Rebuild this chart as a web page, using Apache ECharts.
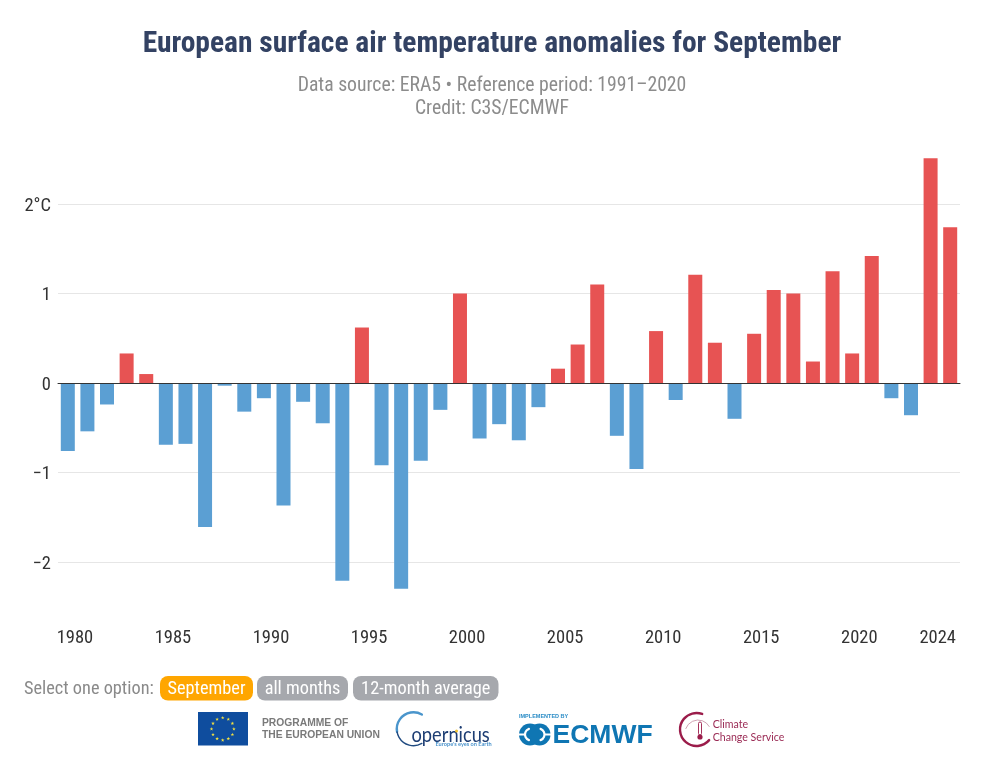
<!DOCTYPE html>
<html><head><meta charset="utf-8"><style>html,body{margin:0;padding:0;background:#fff}#c{width:984px;height:773px}</style></head>
<body><div id="c"></div>
<script src="https://cdn.jsdelivr.net/npm/echarts@6/dist/echarts.min.js"></script>
<script>
const years = ['1979','1980','1981','1982','1983','1984','1985','1986','1987','1988','1989','1990','1991','1992','1993','1994','1995','1996','1997','1998','1999','2000','2001','2002','2003','2004','2005','2006','2007','2008','2009','2010','2011','2012','2013','2014','2015','2016','2017','2018','2019','2020','2021','2022','2023','2024'];
const anomalies = [-0.76,-0.54,-0.24,0.33,0.10,-0.69,-0.68,-1.61,-0.03,-0.32,-0.17,-1.37,-0.21,-0.45,-2.21,0.62,-0.92,-2.30,-0.87,-0.30,1.00,-0.62,-0.46,-0.64,-0.27,0.16,0.43,1.10,-0.59,-0.96,0.58,-0.19,1.21,0.45,-0.40,0.55,1.04,1.00,0.24,1.25,0.33,1.42,-0.17,-0.36,2.51,1.74];
const xTickLabels = ['1980','1985','1990','1995','2000','2005','2010','2015','2020','2024'];
const titleText = 'European surface air temperature anomalies for September';
const subtitleText = 'Data source: ERA5 • Reference period: 1991–2020\nCredit: C3S/ECMWF';
const FONT = "'Roboto Condensed'";
const positive = '#e75353', negative = '#5b9fd3';

function text(x, y, t, size, fill, extra, scaleX) {
  return {type:'text', x, y, scaleX:scaleX||1, silent:true, style:Object.assign({text:t, fontFamily:FONT, fontSize:size, fill, verticalAlign:'middle'}, extra||{})};
}
function button(x, w, label, fill) {
  return [
    {type:'rect', shape:{x, y:676, width:w, height:24.5, r:8}, style:{fill}, silent:true},
    text(x+w/2, 689, label, 18.3, '#fff', {align:'center'})
  ];
}
function stars() {
  const out = [];
  for (let i = 0; i < 12; i++) {
    const a = i*Math.PI/6, cx = 222.7+11.2*Math.cos(a), cy = 729+11.2*Math.sin(a), pts = [];
    for (let k = 0; k < 10; k++) {
      const r = k%2 ? 0.75 : 1.9, b = -Math.PI/2 + k*Math.PI/5;
      pts.push([cx+r*Math.cos(b), cy+r*Math.sin(b)]);
    }
    out.push({type:'polygon', shape:{points:pts}, style:{fill:'#f5e342'}, silent:true});
  }
  return out;
}
const arc = (cx,cy,r,s,e,stroke,w) => ({type:'arc', shape:{cx,cy,r,startAngle:s,endAngle:e}, style:{stroke,lineWidth:w,fill:'none',lineCap:'round'}, silent:true});
const d = Math.PI/180;
const graphics = [
  text(24, 689, 'Select one option:', 18.3, '#8a8a8a'),
  ...button(160, 93, 'September', '#ffa600'),
  ...button(257, 91, 'all months', '#a6a8ad'),
  ...button(353, 145.5, '12-month average', '#a6a8ad'),
  // EU
  {type:'rect', shape:{x:198,y:712,width:50,height:33.5}, style:{fill:'#0f4d9e'}, silent:true},
  ...stars(),
  text(262, 723.5, 'PROGRAMME OF', 10.3, '#7a7a7a', {fontFamily:'Liberation Sans', fontWeight:'bold'}),
  text(262, 735.5, 'THE EUROPEAN UNION', 10.3, '#7a7a7a', {fontFamily:'Liberation Sans', fontWeight:'bold'}),
  // Copernicus
  arc(413.5,729,16.7,170*d,300*d,'#4a95cc',2.4),
  arc(413.5,729,16.7,60*d,170*d,'#1f4a80',1.4),
  text(411.5, 735, 'opernicus', 22, '#1d3d73', {fontFamily:'Lato'}, 0.83),
  {type:'circle', shape:{cx:456.5,cy:731,r:1.5}, style:{fill:'#f2c230'}, silent:true},
  text(435.5, 743.8, "Europe's eyes on Earth", 5.6, '#4a93cc', {fontFamily:'Lato', fontWeight:'bold'}),
  // ECMWF
  text(519, 716.5, 'IMPLEMENTED BY', 5.5, '#2a8cc6', {fontFamily:'Liberation Sans', fontWeight:'bold'}),
  {type:'circle', shape:{cx:530,cy:734.5,r:11}, style:{fill:'#0f76b3'}, silent:true},
  {type:'circle', shape:{cx:539.5,cy:734.5,r:11}, style:{fill:'#0f76b3'}, silent:true},
  arc(531,734.5,6,110*d,250*d,'#fff',2.2),
  arc(538.5,734.5,6,-70*d,70*d,'#fff',2.2),
  {type:'rect', shape:{x:518,y:733.5,width:8,height:2}, style:{fill:'#fff'}, silent:true},
  {type:'rect', shape:{x:544,y:733.5,width:8,height:2}, style:{fill:'#fff'}, silent:true},
  text(552.5, 735.5, 'ECMWF', 26.5, '#0f76b3', {fontFamily:'Liberation Sans', fontWeight:'bold'}),
  // Climate Change Service
  arc(696.5,729.5,16.5,40*d,290*d,'#9b1c4a',2.4),
  arc(698,733,13,200*d,330*d,'#c58aa0',0.8),
  {type:'rect', shape:{x:698.5,y:722,width:3,height:13,r:1.5}, style:{fill:'none',stroke:'#9b1c4a',lineWidth:0.9}, silent:true},
  {type:'circle', shape:{cx:700,cy:737,r:2.6}, style:{fill:'#9b1c4a'}, silent:true},
  text(712.7, 724.5, 'Climate', 10.6, '#9b2b55', {fontFamily:'Lato'}),
  text(712.7, 737.5, 'Change Service', 10.6, '#9b2b55', {fontFamily:'Lato'})
];

const chart = echarts.init(document.getElementById('c'), null, {renderer:'canvas'});
chart.setOption({
  animation:false,
  backgroundColor:'#fff',
  textStyle:{fontFamily:FONT},
  title:{
    text:titleText, subtext:subtitleText, left:'center', top:21, itemGap:11,
    textStyle:{fontFamily:FONT, fontSize:29.5, fontWeight:'bold', color:'#334263', lineHeight:38},
    subtextStyle:{fontFamily:FONT, fontSize:19.7, color:'#8c8c8c', lineHeight:23, align:'center'}
  },
  grid:{left:58, right:24, top:114.5, bottom:121.5, outerBoundsMode:'none'},
  xAxis:{
    type:'category', data:years,
    axisTick:{show:false},
    axisLine:{show:true, onZero:true, lineStyle:{color:'#333', width:1}},
    axisLabel:{
      interval:(i,v)=>xTickLabels.includes(v),
      margin:-23, padding:[0,25,0,0], fontFamily:FONT, fontSize:18.5, color:'#333', hideOverlap:false
    },
    z:5
  },
  yAxis:{
    type:'value', min:-3, max:3, interval:1,
    axisLine:{show:false}, axisTick:{show:false},
    splitLine:{show:true, showMinLine:false, showMaxLine:false, lineStyle:{color:'#e6e6e6', width:1}},
    axisLabel:{
      margin:7, fontFamily:FONT, fontSize:18.5, color:'#333',
      rich:{t:{fontFamily:FONT, fontSize:18.5, color:'#333', padding:[4,0,0,0]}},
      formatter:v=> Math.abs(v)===3 ? '' : '{t|'+(v===2 ? '2°C' : v<0 ? '−'+Math.abs(v) : String(v))+'}'
    }
  },
  series:[{
    type:'bar', data:anomalies, barWidth:14, silent:true,
    itemStyle:{color:p=>p.value>=0?positive:negative}
  }],
  graphic:graphics
});
</script></body></html>
